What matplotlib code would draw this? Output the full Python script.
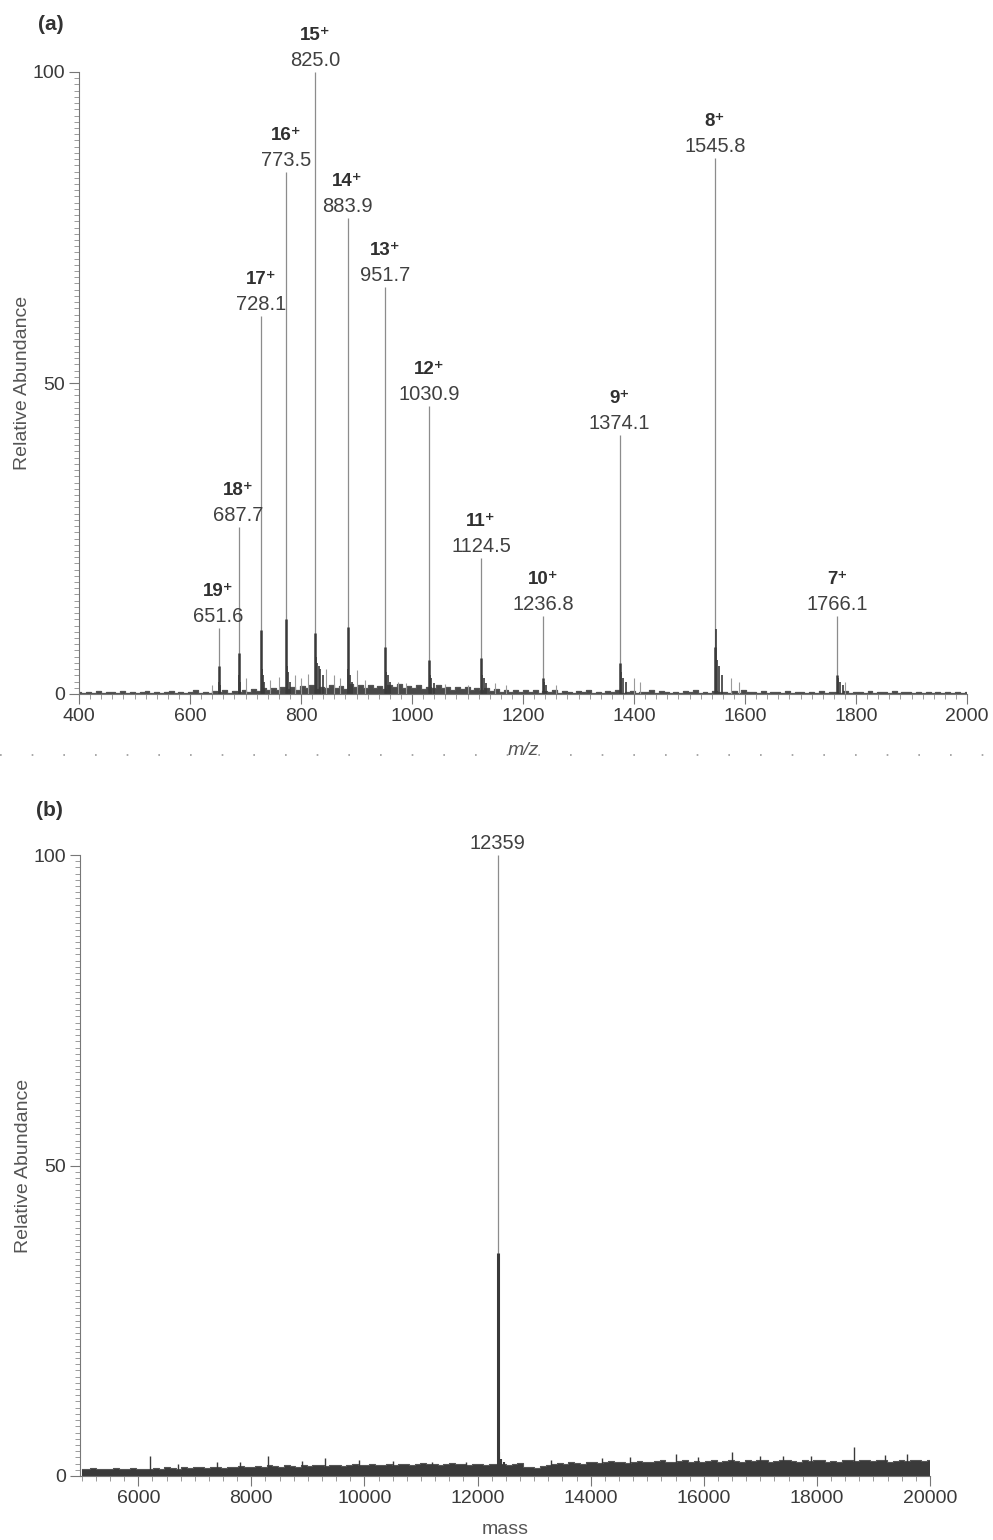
import numpy as np
import matplotlib
matplotlib.use('Agg')
from matplotlib import pyplot as plt
from matplotlib.lines import Line2D
import matplotlib.ticker as tick

plt.rcParams['font.family'] = ['Liberation Sans', 'DejaVu Sans']

# ---- panel (a): ESI spectrum, m/z 400-2000 ----
peaks_mz = [651.6, 687.7, 728.1, 773.5, 825.0, 883.9, 951.7, 1030.9, 1124.5, 1236.8, 1374.1, 1545.8, 1766.1]
peaks_int = [10.6, 26.8, 60.8, 83.9, 100.0, 76.5, 65.4, 46.3, 21.9, 12.5, 41.6, 86.2, 12.5]
charges = [19, 18, 17, 16, 15, 14, 13, 12, 11, 10, 9, 8, 7]
# darker lower part of each peak (overlapping scans)
peaks_base = [4.5, 6.6, 10.3, 12.0, 9.8, 10.8, 7.6, 5.5, 5.8, 2.5, 5.0, 7.5, 3.0]

# adduct / satellite peaks next to each charge state
adduct_mz = [653.0, 654.5, 689.0, 690.5, 729.5, 731.5, 734.0, 775.0, 777.0, 780.0,
             827.0, 829.5, 832.0, 835.0, 839.0, 885.5, 888.0, 892.0, 953.5, 956.0,
             960.0, 1032.5, 1035.0, 1040.0, 1126.0, 1129.0, 1134.0, 1238.5, 1242.0,
             1376.0, 1380.0, 1386.0, 1547.5, 1550.0, 1554.0, 1559.0, 1768.0, 1771.0, 1776.0]
adduct_int = [2.0, 1.5, 3.0, 2.0, 4.0, 3.0, 2.0, 4.5, 3.5, 2.0,
              6.0, 5.0, 4.5, 4.0, 3.0, 4.0, 3.0, 2.0, 3.5, 3.0,
              2.0, 3.0, 2.5, 1.8, 3.0, 2.5, 1.8, 2.0, 1.5,
              3.5, 2.5, 2.0, 10.5, 5.5, 4.5, 3.0, 2.5, 2.0, 1.5]

# light grey minor spikes
minor_mz = [640, 700, 745, 760, 790, 800, 812, 845, 860, 870, 900, 915, 975, 990, 1060, 1100, 1150,
            1170, 1260, 1400, 1410, 1575, 1590, 1780]
minor_int = [1.5, 2.5, 2.2, 2.8, 3.0, 2.5, 3.2, 4.0, 3.0, 2.5, 3.8, 2.2, 2.0, 1.8, 1.6, 1.5, 1.8,
             1.4, 1.4, 2.5, 2.0, 2.5, 2.0, 2.0]

# baseline noise, read along the axis (400 -> 2000)
noise_a = [0.3, 0.1, 0.4, 0.2, 0.5, 0.1, 0.3, 0.4, 0.1, 0.5, 0.2, 0.4, 0.1, 0.3, 0.5, 0.2,
           0.4, 0.1, 0.3, 0.5, 0.2, 0.4, 0.1, 0.3, 0.6, 0.2, 0.4, 0.1, 0.5, 0.3, 0.6, 0.2,
           0.5, 0.3, 0.7, 0.4, 0.8, 0.5, 0.9, 0.6, 1.0, 0.7, 1.2, 0.8, 1.1, 0.7, 1.3, 0.9,
           1.4, 0.8, 1.2, 0.9, 1.5, 1.0, 1.3, 0.8, 1.6, 1.1, 1.4, 0.9, 1.5, 1.0, 1.3, 0.8,
           1.4, 1.1, 1.6, 0.9, 1.3, 1.0, 1.5, 0.8, 1.2, 0.9, 1.4, 1.0, 1.2, 0.7, 1.1, 0.8,
           1.2, 0.7, 1.0, 0.6, 0.9, 0.5, 0.8, 0.4, 0.7, 0.3, 0.6, 0.4, 0.7, 0.3, 0.6, 0.2,
           0.5, 0.3, 0.6, 0.2, 0.5, 0.4, 0.1, 0.5, 0.3, 0.6, 0.2, 0.4, 0.1, 0.5, 0.3, 0.6,
           0.2, 0.4, 0.5, 0.1, 0.4, 0.3, 0.6, 0.2, 0.5, 0.3, 0.1, 0.4, 0.2, 0.5, 0.3, 0.6,
           0.2, 0.4, 0.1, 0.5, 0.3, 0.4, 0.1, 0.5, 0.2, 0.6, 0.3, 0.4, 0.1, 0.5, 0.2, 0.4,
           0.3, 0.1, 0.5, 0.2, 0.4, 0.3, 0.1, 0.4, 0.2, 0.5, 0.1, 0.3, 0.4, 0.2, 0.5, 0.1,
           0.3, 0.4, 0.2, 0.5, 0.1, 0.4, 0.3, 0.2, 0.5, 0.1, 0.3, 0.4, 0.1, 0.3, 0.2, 0.4,
           0.1, 0.3, 0.2, 0.4, 0.1, 0.3, 0.2, 0.4]

# ---- panel (b): deconvoluted mass spectrum ----
mass_peak = 12359
mass_int = 100.0
mass_base = 35.9
mass_sat = [12385, 12420, 12460]
mass_sat_int = [3.9, 2.8, 2.2]

# top of the dark baseline band, every 100 Da from 5000 to 20000
band_b = [1.2, 1.1, 1.3, 1.2, 1.1, 1.2, 1.3, 1.2, 1.1, 1.3, 1.2, 1.1, 1.2, 1.3, 1.2, 1.4,
          1.3, 1.2, 1.4, 1.3, 1.5, 1.4, 1.3, 1.5, 1.4, 1.3, 1.5, 1.4, 1.6, 1.5, 1.4, 1.6,
          1.5, 1.7, 1.6, 1.5, 1.7, 1.6, 1.5, 1.7, 1.6, 1.8, 1.7, 1.6, 1.8, 1.7, 1.6, 1.8,
          1.9, 1.7, 1.8, 1.9, 1.7, 1.8, 2.0, 1.8, 1.9, 2.0, 1.8, 1.9, 2.1, 1.9, 2.0, 1.8,
          2.0, 2.1, 1.9, 2.0, 1.8, 1.9, 2.0, 1.8, 1.9, 2.0, 1.9, 1.8, 2.0, 2.1, 1.5, 1.4,
          1.3, 1.6, 1.8, 2.0, 2.1, 2.0, 2.2, 2.1, 2.0, 2.2, 2.3, 2.1, 2.2, 2.4, 2.2, 2.3,
          2.1, 2.3, 2.4, 2.2, 2.3, 2.4, 2.5, 2.3, 2.2, 2.4, 2.5, 2.3, 2.4, 2.2, 2.4, 2.5,
          2.3, 2.4, 2.6, 2.4, 2.3, 2.5, 2.4, 2.6, 2.5, 2.3, 2.4, 2.6, 2.5, 2.4, 2.3, 2.5,
          2.4, 2.6, 2.5, 2.3, 2.4, 2.2, 2.6, 2.5, 2.4, 2.6, 2.5, 2.4, 2.6, 2.5, 2.3, 2.4,
          2.5, 2.4, 2.6, 2.5, 2.4, 2.5]
spike_mass = [6200, 6700, 7400, 7800, 8300, 8900, 9300, 9900, 10500, 11200, 11800, 13300, 14200,
              14700, 15500, 15900, 16500, 17000, 17400, 17900, 18650, 19200, 19600]
spike_int = [3.2, 2.0, 2.2, 2.3, 3.3, 2.4, 2.9, 2.5, 2.4, 2.3, 2.2, 2.5, 2.9,
             3.0, 3.5, 3.1, 3.8, 3.2, 3.3, 3.2, 4.6, 3.4, 3.6]

line_grey = '#8c8c8c'
dark = '#3a3a3a'
text_col = '#3a3a3a'

fig = plt.figure(figsize=(9.93, 15.40), dpi=100)
W, H = 993.0, 1540.0

ax = fig.add_axes([79 / W, 1 - 694 / H, (967 - 79) / W, (694 - 72) / H])
ax2 = fig.add_axes([80 / W, 1 - 1476 / H, 850 / W, (1476 - 855) / H])

# --- (a) ---
x_noise = np.linspace(400, 2000, len(noise_a))
ax.fill_between(x_noise, 0, noise_a, step='mid', color='#4a4a4a', lw=0)
ax.step(x_noise, noise_a, where='mid', color='#555555', lw=0.9)
ax.vlines(minor_mz, 0, minor_int, color='#9a9a9a', lw=0.8)
ax.vlines(peaks_mz, 0, peaks_int, color=line_grey, lw=0.9, clip_on=False)
ax.vlines(peaks_mz, 0, peaks_base, color=dark, lw=1.8)
ax.vlines(adduct_mz, 0, adduct_int, color=dark, lw=1.2)

for mz, h, z in zip(peaks_mz, peaks_int, charges):
    ax.annotate(f'{mz:.1f}', (mz, h), xytext=(0, 2), textcoords='offset pixels',
                ha='center', va='bottom', fontsize=14.5, color='#404040')
    ax.annotate(f'{z}\u207a', (mz, h), xytext=(0, 28), textcoords='offset pixels',
                ha='center', va='bottom', fontsize=13.5, fontweight='bold', color='#303030')

ax.set_xlim(400, 2000)
ax.set_ylim(0, 100)
ax.set_xlabel('m/z', style='italic', fontsize=14, color='#555555', labelpad=12)
ax.set_ylabel('Relative Abundance', fontsize=14, color='#555555')
ax.xaxis.set_major_locator(tick.MultipleLocator(200))
ax.xaxis.set_minor_locator(tick.MultipleLocator(20))

# --- (b) ---
x_band = np.linspace(5000, 20000, len(band_b))
ax2.fill_between(x_band, 0, band_b, step='mid', color=dark, lw=0)
ax2.step(x_band, band_b, where='mid', color='#555555', lw=0.8)
ax2.vlines(spike_mass, 0, spike_int, color=dark, lw=1.0)
ax2.vlines([mass_peak], 0, [mass_int], color=line_grey, lw=0.9, clip_on=False)
ax2.vlines([mass_peak], 0, [mass_base], color=dark, lw=2.2)
ax2.vlines(mass_sat, 0, mass_sat_int, color=dark, lw=1.5)
ax2.annotate(f'{mass_peak}', (mass_peak, mass_int), xytext=(0, 2), textcoords='offset pixels',
             ha='center', va='bottom', fontsize=14.5, color='#404040')

ax2.set_xlim(4970, 20000)
ax2.set_ylim(0, 100)
ax2.set_xlabel('mass', fontsize=14, color='#555555', labelpad=10)
ax2.set_ylabel('Relative Abundance', fontsize=14, color='#555555')
ax2.xaxis.set_major_locator(tick.MultipleLocator(2000))
ax2.xaxis.set_minor_locator(tick.MultipleLocator(250))

for a in (ax, ax2):
    for s in ('top', 'right'):
        a.spines[s].set_visible(False)
    for s in ('left', 'bottom'):
        a.spines[s].set_color('#777777')
        a.spines[s].set_linewidth(0.8)
    a.set_yticks([0, 50, 100])
    a.yaxis.set_minor_locator(tick.MultipleLocator(1))
    a.tick_params(which='major', direction='out', length=7, width=0.8, color='#777777',
                  labelsize=14, labelcolor=text_col, pad=3)
    a.tick_params(which='minor', direction='out', length=3.5, width=0.6, color='#8a8a8a')

ax.yaxis.set_label_coords(-0.054, 0.5)
ax2.yaxis.set_label_coords(-0.056, 0.5)

fig.text(38 / W, 1 - 25 / H, '(a)', fontsize=15, fontweight='bold', color='#333333', va='center')
fig.text(36 / W, 1 - 810 / H, '(b)', fontsize=15, fontweight='bold', color='#333333', va='center')

# dotted separator between the two panels
fig.add_artist(Line2D([0.0, 1.0], [1 - 755 / H, 1 - 755 / H], transform=fig.transFigure,
                      color='#999999', lw=1.2, linestyle=(0, (1, 18))))

fig.savefig('out.png', dpi=100, facecolor='white')
